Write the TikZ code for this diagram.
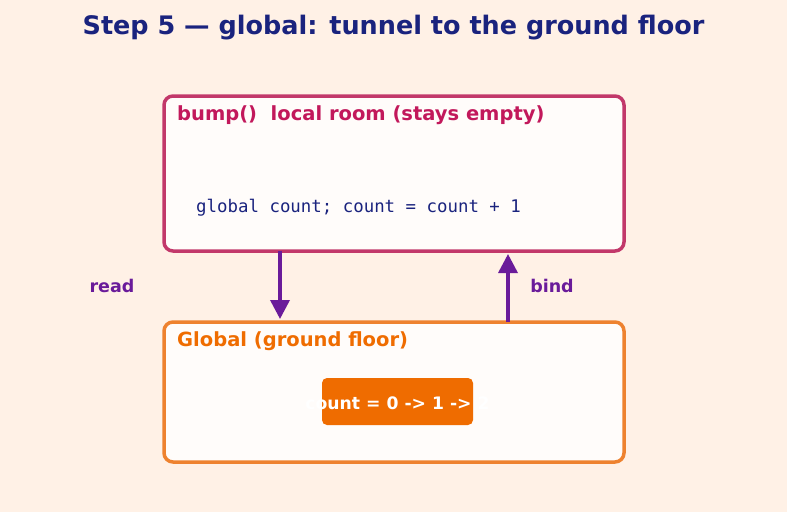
\documentclass[tikz,border=0pt]{standalone}
\usepackage{fontspec}
\setmainfont{DejaVu Sans}
\setmonofont{DejaVu Sans Mono}
\usetikzlibrary{arrows.meta}
\definecolor{bg}{HTML}{FFF1E6}
\definecolor{boxfill}{HTML}{FFFCFA}
\definecolor{titlec}{HTML}{1A237E}
\definecolor{localc}{HTML}{C2386A}
\definecolor{localt}{HTML}{C2185B}
\definecolor{globc}{HTML}{EE822F}
\definecolor{globt}{HTML}{EF6C00}
\definecolor{pillc}{HTML}{EF6C00}
\definecolor{arrowc}{HTML}{6A1B9A}
\tikzset{
  room/.style={draw, line width=3.5pt, rounded corners=9pt, fill=boxfill, outer sep=0pt},
  hdr/.style={anchor=base west, font=\bfseries\fontsize{19.5}{22}\selectfont, inner sep=0pt},
  flow/.style={draw=arrowc, line width=3.5pt, -{Triangle[length=19pt,width=19pt]}},
  lbl/.style={text=arrowc, font=\bfseries\fontsize{17.5}{20}\selectfont, inner sep=0pt}
}
\begin{document}
\begin{tikzpicture}[x=1pt,y=-1pt]
\fill[bg] (0,0) rectangle (787,512);
\useasboundingbox (0,0) rectangle (787,512);
\node[text=titlec, font=\bfseries\fontsize{25.5}{28}\selectfont, anchor=base, inner sep=0pt] (title) at (393.5,34) {Step 5 — global: tunnel to the ground floor};
\node[room, draw=localc, minimum width=460pt, minimum height=155pt, anchor=north west] (local) at (164,96) {};
\node[hdr, text=localt] (lhdr) at (177,120) {bump()\ \ local room (stays empty)};
\node[anchor=base west, inner sep=0pt, text=titlec, font=\ttfamily\fontsize{17.4}{20}\selectfont] (code) at (196,212) {global count; count = count + 1};
\node[room, draw=globc, minimum width=460pt, minimum height=140pt, anchor=north west] (glob) at (164,322) {};
\node[hdr, text=globt] (ghdr) at (177,346) {Global (ground floor)};
\node[fill=pillc, rounded corners=5pt, minimum width=151pt, minimum height=47pt, anchor=north west, inner sep=0pt, outer sep=0pt] (pill) at (322,378) {};
\node[text=white, font=\bfseries\fontsize{17.2}{20}\selectfont, anchor=base, inner sep=0pt] (val) at (397.5,409) {count = 0 -> 1 -> 2};
\coordinate (rs) at (280,251);
\coordinate (re) at (280,319);
\coordinate (bs) at (508,322);
\coordinate (be) at (508,254);
\draw[flow] (rs) -- (re);
\draw[flow] (bs) -- (be);
\node[lbl] (read) at (112,286) {read};
\node[lbl] (bind) at (552,286) {bind};
\end{tikzpicture}
\end{document}
